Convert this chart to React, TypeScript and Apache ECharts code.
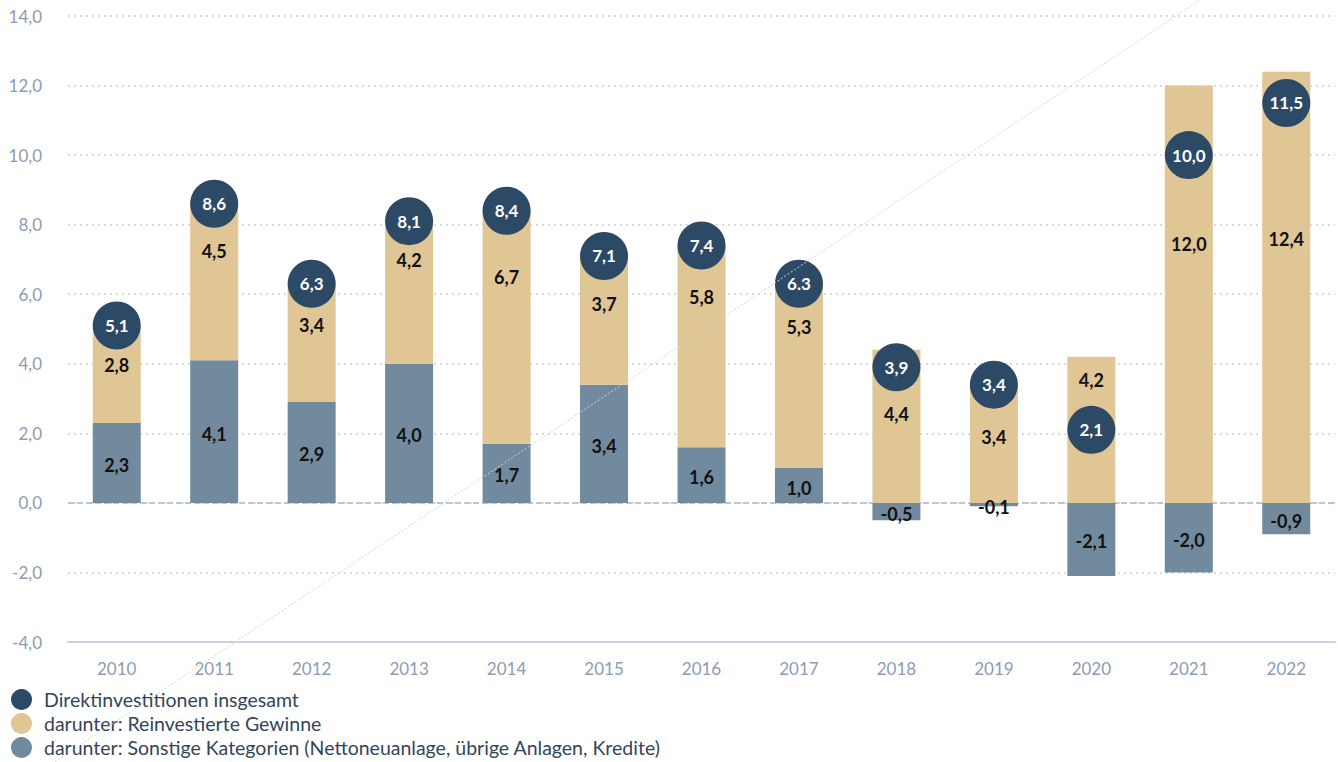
import React, { useEffect, useRef } from "react";
import * as echarts from "echarts";

const years = ["2010", "2011", "2012", "2013", "2014", "2015", "2016", "2017", "2018", "2019", "2020", "2021", "2022"];
const reinvested = [2.8, 4.5, 3.4, 4.2, 6.7, 3.7, 5.8, 5.3, 4.4, 3.4, 4.2, 12.0, 12.4];
const other = [2.3, 4.1, 2.9, 4.0, 1.7, 3.4, 1.6, 1.0, -0.5, -0.1, -2.1, -2.0, -0.9];
const total = [5.1, 8.6, 6.3, 8.1, 8.4, 7.1, 7.4, 6.3, 3.9, 3.4, 2.1, 10.0, 11.5];
const totalText = ["5,1", "8,6", "6,3", "8,1", "8,4", "7,1", "7,4", "6.3", "3,9", "3,4", "2,1", "10,0", "11,5"];
// vertical lift (px) of the reinvested-profit labels above bar centre
const reinvestedLabelLift = [9, 31, 18, 31, 50, 16, 49, 49, 12, 7, 50, 50, 48];

const yTicks = { min: -4, max: 14, interval: 2 };

const NAVY = "#2c4966";
const TAN = "#e0c595";
const GREY = "#728a9e";
const AXIS_TXT = "#8d9cb1";
const FONT = "Lato, 'Noto Sans', sans-serif";

const fmt = (v: number) => v.toFixed(1).replace(".", ",");

export default function App() {
  const ref = useRef<HTMLDivElement>(null);
  useEffect(() => {
    document.body.style.margin = "0";
    if (!ref.current) return;
    const chart = echarts.init(ref.current, undefined, { renderer: "svg" });
    const barLabel = {
      show: true,
      color: "#111",
      fontWeight: "bold" as const,
      fontSize: 18,
      fontFamily: FONT,
      formatter: (p: any) => fmt(p.value),
    };
    chart.setOption({
      animation: false,
      textStyle: { fontFamily: FONT },
      grid: { left: 68, right: 3, top: 16, bottom: 120, containLabel: false },
      legend: {
        orient: "vertical",
        left: 11,
        top: 689,
        padding: 0,
        itemWidth: 21,
        itemHeight: 21,
        itemGap: 3,
        icon: "circle",
        data: [
          "Direktinvestitionen insgesamt",
          "darunter: Reinvestierte Gewinne",
          "darunter: Sonstige Kategorien (Nettoneuanlage, übrige Anlagen, Kredite)",
        ],
        textStyle: { color: "#33455a", fontSize: 19.5, lineHeight: 21, fontFamily: FONT, padding: [0, 0, 0, 7] },
      },
      xAxis: {
        type: "category",
        data: years,
        axisLine: { onZero: false, lineStyle: { color: "#c8d4e2", width: 2 } },
        axisTick: { show: false },
        axisLabel: { color: AXIS_TXT, fontSize: 17, margin: 18, fontFamily: FONT },
      },
      yAxis: {
        type: "value",
        min: yTicks.min,
        max: yTicks.max,
        interval: yTicks.interval,
        axisLine: { show: false },
        axisTick: { show: false },
        axisLabel: { color: AXIS_TXT, fontSize: 17, margin: 26, fontFamily: FONT, formatter: fmt },
        splitLine: { lineStyle: { color: "#c3d1e1", width: 1.5, type: [2, 4] } },
      },
      series: [
        {
          name: "darunter: Sonstige Kategorien (Nettoneuanlage, übrige Anlagen, Kredite)",
          type: "bar",
          stack: "a",
          barWidth: 48,
          itemStyle: { color: GREY },
          label: { ...barLabel, position: "inside", offset: [0, 2] },
          data: other,
          markLine: {
            silent: true,
            symbol: "none",
            label: { show: false },
            lineStyle: { color: "#b7c6d8", width: 2, type: [6, 3] },
            data: [{ yAxis: 0 }],
            z: 1,
          },
        },
        {
          name: "darunter: Reinvestierte Gewinne",
          type: "bar",
          stack: "a",
          barWidth: 48,
          itemStyle: { color: TAN },
          data: reinvested.map((v, i) => ({
            value: v,
            label: { offset: [0, -reinvestedLabelLift[i]] },
          })),
          label: { ...barLabel, position: "inside" },
        },
        {
          name: "Direktinvestitionen insgesamt",
          type: "scatter",
          symbol: "circle",
          symbolSize: 48,
          z: 5,
          itemStyle: { color: NAVY, opacity: 1 },
          data: total,
          label: {
            show: true,
            position: "inside",
            color: "#fff",
            fontWeight: "bold",
            fontSize: 17,
            fontFamily: FONT,
            formatter: (p: any) => totalText[p.dataIndex],
          },
        },
      ],
      graphic: [
        {
          type: "line",
          z: 100,
          silent: true,
          shape: { x1: 55, y1: 762, x2: 1200, y2: 0 },
          style: { stroke: "#d4d4d4", lineWidth: 1, lineDash: [2, 2] },
        },
      ],
    });
    return () => chart.dispose();
  }, []);
  return <div ref={ref} style={{ width: 1338, height: 762 }} />;
}
